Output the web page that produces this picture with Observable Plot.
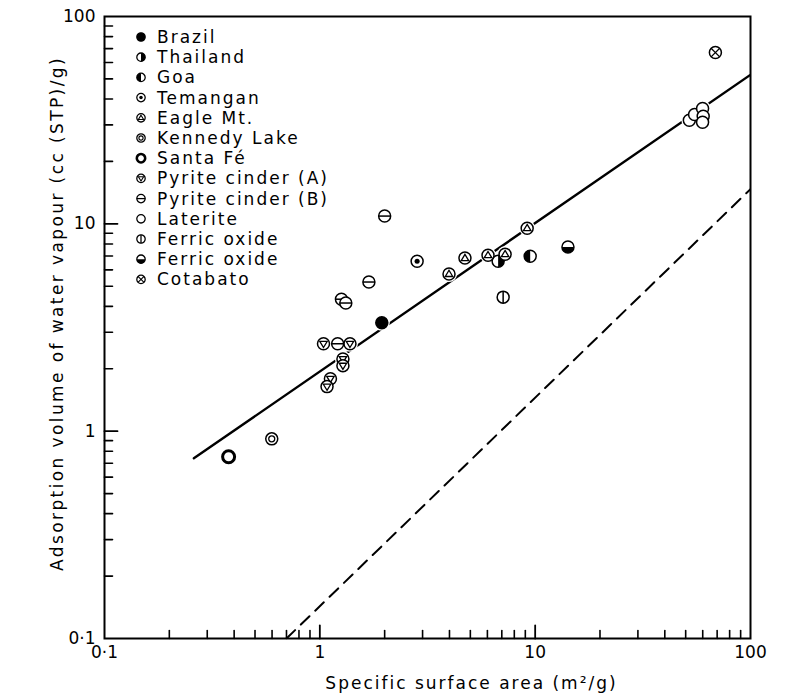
<!DOCTYPE html>
<html><head><meta charset="utf-8">
<script src="https://cdn.jsdelivr.net/npm/d3@7"></script>
<script src="https://cdn.jsdelivr.net/npm/@observablehq/plot@0.6"></script>
<style>
body{margin:0;background:#fff}
#chart{position:relative;width:786px;height:700px}
</style>
</head><body><div id="chart"></div>
<script>
// ---- data ----
const siteKeys   = ["brazil","thailand","goa","temangan","eagle","kennedy","santafe","pyriteA","pyriteB","laterite","ferric1","ferric2","cotabato"];
const siteLabels = ["Brazil","Thailand","Goa","Temangan","Eagle Mt.","Kennedy Lake","Santa Fé","Pyrite cinder (A)","Pyrite cinder (B)","Laterite","Ferric oxide","Ferric oxide","Cotabato"];

const pointSite = ["brazil","thailand","goa","temangan",
  "eagle","eagle","eagle","eagle","eagle",
  "kennedy","santafe",
  "pyriteA","pyriteA","pyriteA","pyriteA","pyriteA","pyriteA",
  "pyriteB","pyriteB","pyriteB","pyriteB","pyriteB",
  "laterite","laterite","laterite","laterite","laterite",
  "ferric1","ferric2","cotabato"];
const pointX = [1.94, 6.73, 9.48, 2.83,
  3.98, 4.72, 6.04, 7.25, 9.18,
  0.598, 0.377,
  1.04, 1.38, 1.28, 1.28, 1.12, 1.08,
  2.0, 1.69, 1.26, 1.32, 1.21,
  52, 55, 59.9, 60.3, 59.9,
  7.1, 14.2, 68.7];
const pointY = [3.33, 6.6, 6.98, 6.6,
  5.73, 6.84, 7.06, 7.14, 9.53,
  0.918, 0.753,
  2.64, 2.64, 2.23, 2.07, 1.79, 1.64,
  10.9, 5.24, 4.33, 4.15, 2.64,
  31.6, 33.7, 36, 33, 30.9,
  4.43, 7.73, 67];

const fitX = [0.26, 99];
const fitY = [0.74, 52];
const monoX = [0.70, 100];
const monoY = [0.1, 14.7];

const xMajor = [0.1, 1, 10, 100];
const yMajor = [0.1, 1, 10, 100];
const xTickLabels = ["0·1", "1", "10", "100"];
const yTickLabels = ["0·1", "1", "10", "100"];
const innerMajor = [1, 10];
const minorSteps = [2,3,4,5,6,7,8,9];
const decades = [0.1, 1, 10];

const xTitle = "Specific surface area (m²/g)";
const yTitle = "Adsorption volume of water vapour (cc (STP)/g)";

// ---- derived tables ----
const points = pointX.map((x, i) => ({x, y: pointY[i], site: pointSite[i]}));
const fitLine = fitX.map((x, i) => ({x, y: fitY[i]}));
const monoLine = monoX.map((x, i) => ({x, y: monoY[i]}));
const minorTicks = decades.flatMap(d => minorSteps.map(s => +(d * s).toPrecision(3)));

// ---- symbols ----
const sym = fn => ({draw(ctx, size){ const R = Math.sqrt(size / Math.PI); fn(ctx, R); }});
const S = {
  circle: sym((c,R)=>{c.moveTo(R,0);c.arc(0,0,R,0,2*Math.PI);}),
  halfL: sym((c,R)=>{c.moveTo(0,-R);c.arc(0,0,R,-Math.PI/2,Math.PI/2,true);c.closePath();}),
  halfR: sym((c,R)=>{c.moveTo(0,-R);c.arc(0,0,R,-Math.PI/2,Math.PI/2,false);c.closePath();}),
  halfB: sym((c,R)=>{c.moveTo(R,0);c.arc(0,0,R,0,Math.PI,false);c.closePath();}),
  hline: sym((c,R)=>{c.moveTo(-R,0);c.lineTo(R,0);}),
  vline: sym((c,R)=>{c.moveTo(0,-R);c.lineTo(0,R);}),
  cross: sym((c,R)=>{const a=R*0.72;c.moveTo(-a,-a);c.lineTo(a,a);c.moveTo(a,-a);c.lineTo(-a,a);}),
  triUp: sym((c,R)=>{c.moveTo(0,-0.62*R);c.lineTo(0.62*R,0.42*R);c.lineTo(-0.62*R,0.42*R);c.closePath();}),
  triDown: sym((c,R)=>{c.moveTo(0,0.62*R);c.lineTo(0.62*R,-0.4*R);c.lineTo(-0.62*R,-0.4*R);c.closePath();}),
  dotC: sym((c,R)=>{const r=0.42*R;c.moveTo(r,0);c.arc(0,0,r,0,2*Math.PI);}),
  ringC: sym((c,R)=>{const r=0.5*R;c.moveTo(r,0);c.arc(0,0,r,0,2*Math.PI);})
};
// layers: [symbol, fill, stroke, strokeWidth]
const base = ["circle","white","black",1.5];
const styleOf = {
  brazil:   [["circle","black","black",1.5]],
  thailand: [base, ["halfR","black","none",0]],
  goa:      [base, ["halfL","black","none",0]],
  temangan: [base, ["dotC","black","none",0]],
  eagle:    [base, ["triUp","none","black",1.3]],
  kennedy:  [base, ["ringC","none","black",1.3]],
  santafe:  [["circle","white","black",3]],
  pyriteA:  [base, ["triDown","none","black",1.3]],
  pyriteB:  [base, ["hline","none","black",1.5]],
  laterite: [base],
  ferric1:  [base, ["vline","none","black",1.5]],
  ferric2:  [base, ["halfB","black","none",0]],
  cotabato: [base, ["cross","none","black",1.3]]
};

const R = 6;
const pointMarks = points.flatMap(p => styleOf[p.site].map(([s,f,st,sw]) =>
  Plot.dot([p], {x:"x", y:"y", r:R, symbol:S[s], fill:f, stroke:st, strokeWidth:sw})));

const fmtX = d => xTickLabels[xMajor.indexOf(d)];
const fmtY = d => yTickLabels[yMajor.indexOf(d)];
const font = "DejaVu Sans";
// inward tick shape (from anchor point along the vector direction)
const tickShape = {draw(c, l){ c.moveTo(0, 0); c.lineTo(0, -l); }};
const inTicksX = (vals, len, sw) => Plot.vector(vals, {x: d => d, frameAnchor: "bottom", length: len, rotate: 0, anchor: "start", shape: tickShape, stroke: "black", strokeWidth: sw});
const inTicksY = (vals, len, sw) => Plot.vector(vals, {y: d => d, frameAnchor: "left", length: len, rotate: 90, anchor: "start", shape: tickShape, stroke: "black", strokeWidth: sw});

const chart = Plot.plot({
  width: 786, height: 700,
  marginLeft: 104, marginRight: 36, marginTop: 16, marginBottom: 62,
  style: {fontFamily: font, fontSize: "17px", background: "white", color: "black"},
  x: {type: "log", domain: [0.1, 100]},
  y: {type: "log", domain: [0.1, 100]},
  marks: [
    Plot.axisX({ticks: xMajor, tickSize: 0, tickPadding: 7, tickFormat: fmtX, fontSize: 17, label: null}),
    Plot.axisY({ticks: yMajor, tickSize: 0, tickPadding: 9, tickFormat: fmtY, fontSize: 17, label: null}),
    inTicksX(innerMajor, 13, 1.8),
    inTicksX(minorTicks, 8, 1.6),
    inTicksY(innerMajor, 13, 1.8),
    inTicksY(minorTicks, 8, 1.6),
    Plot.line(monoLine, {x:"x", y:"y", stroke:"black", strokeWidth:2, strokeDasharray:"12,8", clip:true}),
    Plot.line(fitLine, {x:"x", y:"y", stroke:"black", strokeWidth:2.4, clip:true}),
    Plot.dot(points, {x:"x", y:"y", r:R+2, fill:"white"}),
    ...pointMarks,
    Plot.frame({stroke:"black", strokeWidth:2}),
    Plot.text([xTitle], {frameAnchor:"bottom", dy:50, dx:44, fontSize:17, textAnchor:"middle", text:d=>d}),
    Plot.text([yTitle], {frameAnchor:"left", dx:-47, dy:-14, rotate:-90, fontSize:17, textAnchor:"middle", text:d=>d})
  ]
});
document.getElementById("chart").appendChild(chart);
// letter spacing for titles (wide-set lettering of the original)
d3.select(chart).selectAll("text")
  .filter(function(){ return this.textContent === xTitle || this.textContent === yTitle; })
  .attr("letter-spacing", function(){ return this.textContent === xTitle ? 2 : 2.4; });

// ---- legend (inside the frame, upper left) ----
const svg = d3.select(chart);
const lg = svg.append("g").attr("font-family", font).attr("font-size", 17).attr("text-anchor", "start");
const lgX = 141, lgY0 = 37, lgStep = 20.2, lgR = 4.2;
siteKeys.forEach((k, i) => {
  const g = lg.append("g").attr("transform", `translate(${lgX},${lgY0 + i*lgStep})`);
  styleOf[k].forEach(([s,f,st,sw]) => {
    const p = d3.path();
    S[s].draw(p, lgR*lgR*Math.PI);
    g.append("path").attr("d", p.toString()).attr("fill", f).attr("stroke", st).attr("stroke-width", sw*0.85);
  });
  g.append("text").attr("x", 16).attr("dy", "0.35em").attr("fill", "black").attr("text-anchor", "start").attr("letter-spacing", 2).text(siteLabels[i]);
});
</script>
</body></html>
